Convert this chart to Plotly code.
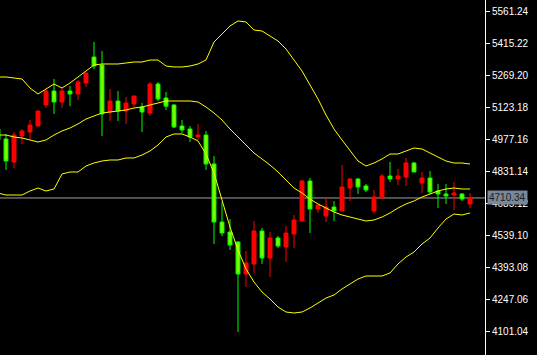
import plotly.graph_objects as go

bars = list(range(-1, 59))

opens = [5025.1, 4979.5, 4874.5, 4993.1, 5011.4, 5038.8, 5134.6, 5198.5, 5148.3, 5198.5,
         5184.8, 5235.0, 5353.6, 5317.1, 5102.6, 5152.8, 5107.2, 5139.2, 5125.4, 5098.1,
         5230.4, 5166.5, 5134.6, 5038.8, 5025.1, 4988.6, 4997.7, 4865.4, 4600.7, 4555.1,
         4509.4, 4363.4, 4409.1, 4559.6, 4436.4, 4527.7, 4486.6, 4545.9, 4605.2, 4787.8,
         4660.0, 4628.1, 4669.2, 4650.9, 4755.9, 4796.9, 4765.0, 4650.9, 4710.5, 4810.6,
         4796.9, 4806.0, 4870.0, 4778.7, 4801.5, 4742.1, 4728.4, 4723.9, 4728.4, 4682.9]
highs = [5034.2, 5002.3, 5011.4, 5025.1, 5066.1, 5107.2, 5203.0, 5253.2, 5212.2, 5221.3,
         5248.7, 5280.6, 5422.1, 5381.0, 5207.6, 5198.5, 5171.1, 5175.6, 5143.7, 5239.5,
         5239.5, 5193.9, 5139.2, 5066.1, 5038.8, 5047.9, 5015.9, 4901.9, 4692.0, 4614.4,
         4514.0, 4468.4, 4605.2, 4573.3, 4555.1, 4536.8, 4582.4, 4632.6, 4792.3, 4801.5,
         4678.3, 4710.2, 4696.5, 4860.8, 4801.5, 4801.5, 4774.1, 4746.7, 4819.7, 4874.5,
         4842.6, 4892.8, 4874.5, 4828.9, 4833.4, 4774.1, 4774.1, 4783.2, 4733.0, 4733.0]
lows = [4965.8, 4838.0, 4847.1, 4956.6, 4974.9, 5038.8, 5120.9, 5093.5, 5120.9, 5129.2,
        5157.4, 5216.7, 5298.9, 4993.1, 5061.6, 5061.6, 5047.9, 5125.4, 5011.4, 5084.4,
        5152.8, 5111.8, 5029.7, 5006.8, 4965.8, 4974.9, 4838.0, 4500.3, 4536.8, 4472.9,
        4098.8, 4304.1, 4368.0, 4409.1, 4349.7, 4482.1, 4418.2, 4482.1, 4605.2, 4550.5,
        4641.8, 4600.7, 4605.2, 4650.9, 4696.5, 4728.4, 4737.6, 4641.8, 4705.6, 4783.2,
        4769.6, 4765.0, 4828.9, 4733.0, 4728.4, 4664.6, 4682.9, 4655.4, 4696.5, 4664.6]
closes = [4974.9, 4879.0, 4997.7, 5015.9, 5043.3, 5107.2, 5198.5, 5148.3, 5198.5, 5184.8,
          5239.5, 5280.6, 5312.5, 5093.5, 5152.8, 5107.2, 5143.7, 5175.6, 5102.6, 5230.4,
          5162.0, 5129.2, 5034.2, 5020.5, 4988.6, 4997.7, 4865.4, 4600.7, 4550.5, 4495.8,
          4363.4, 4413.6, 4559.6, 4436.4, 4527.7, 4491.2, 4550.5, 4609.8, 4787.8, 4660.0,
          4678.3, 4669.2, 4650.9, 4760.4, 4796.9, 4760.4, 4746.7, 4715.0, 4810.6, 4796.9,
          4810.6, 4870.0, 4828.9, 4801.5, 4737.6, 4728.4, 4719.3, 4733.0, 4705.6, 4710.34]

band_upper = [5262.4, 5262.4, 5257.8, 5253.2, 5212.2, 5184.8, 5207.6, 5230.4, 5212.2, 5235.0,
              5262.4, 5289.7, 5317.1, 5321.7, 5321.7, 5321.7, 5326.2, 5330.8, 5330.8, 5339.9,
              5339.9, 5312.5, 5308.0, 5308.0, 5312.5, 5321.7, 5339.9, 5422.1, 5458.6, 5495.1,
              5518.0, 5513.4, 5476.8, 5472.3, 5449.4, 5426.6, 5390.1, 5339.9, 5289.7, 5225.9,
              5162.0, 5088.9, 5025.1, 4974.9, 4929.2, 4879.0, 4856.2, 4869.9, 4888.2, 4911.0,
              4911.0, 4924.7, 4938.4, 4933.8, 4915.6, 4897.3, 4879.0, 4869.9, 4869.9, 4865.4]
band_middle = [4997.7, 4997.7, 4988.6, 4984.0, 4974.9, 4965.8, 4974.9, 4997.7, 5015.9, 5029.7,
               5047.9, 5070.7, 5084.4, 5098.1, 5102.6, 5107.2, 5111.8, 5120.9, 5125.4, 5134.6,
               5143.7, 5152.8, 5152.8, 5152.8, 5152.8, 5148.3, 5125.4, 5098.1, 5066.1, 5025.1,
               4988.6, 4947.5, 4915.6, 4888.2, 4860.8, 4828.9, 4792.3, 4755.9, 4733.0, 4705.6,
               4682.9, 4664.6, 4646.3, 4632.6, 4623.5, 4614.4, 4605.2, 4609.8, 4623.5, 4641.8,
               4664.6, 4682.9, 4696.5, 4714.7, 4728.4, 4742.1, 4751.3, 4755.9, 4751.3, 4751.3]
band_lower = [4733.0, 4723.9, 4723.9, 4723.9, 4742.1, 4755.9, 4742.1, 4751.3, 4819.7, 4828.9,
              4828.9, 4856.2, 4869.9, 4879.0, 4883.6, 4883.6, 4892.8, 4892.8, 4906.4, 4924.7,
              4952.1, 4988.6, 5002.3, 5002.3, 4988.6, 4970.4, 4911.0, 4824.3, 4701.1, 4577.9,
              4472.9, 4386.2, 4326.9, 4281.3, 4249.3, 4212.8, 4190.0, 4185.4, 4190.0, 4208.3,
              4231.1, 4253.9, 4267.6, 4295.0, 4317.8, 4340.6, 4354.3, 4354.3, 4354.3, 4368.0,
              4409.1, 4441.0, 4463.8, 4500.3, 4527.7, 4573.3, 4614.4, 4637.2, 4632.6, 4641.8]

price_ticks = [5561.24, 5415.22, 5269.20, 5123.18, 4977.16, 4831.14,
               4685.12, 4539.10, 4393.08, 4247.06, 4101.04]
bid_price = 4710.34

fig = go.Figure()
fig.add_trace(go.Candlestick(
    x=bars, open=opens, high=highs, low=lows, close=closes,
    increasing=dict(line=dict(color="#FF0000", width=1), fillcolor="#FF0000"),
    decreasing=dict(line=dict(color="#00FF00", width=1), fillcolor="#7FFF00"),
    whiskerwidth=0, showlegend=False, hoverinfo="skip",
))
for band in (band_upper, band_middle, band_lower):
    fig.add_trace(go.Scatter(x=bars, y=band, mode="lines",
                             line=dict(color="#FFFF00", width=1),
                             showlegend=False, hoverinfo="skip"))

fig.add_shape(type="line", xref="paper", x0=0, x1=1, yref="y", y0=bid_price, y1=bid_price,
              line=dict(color="#A0A0A0", width=1), layer="below")

fig.add_annotation(xref="paper", x=1, xanchor="left", xshift=2, yref="y", y=bid_price,
                   text=f"{bid_price:.2f}", showarrow=False, bgcolor="#778899",
                   font=dict(family="Liberation Sans", size=10, color="#202020"),
                   borderpad=1)

fig.update_layout(
    width=537, height=355,
    margin=dict(l=0, r=52, t=0, b=0),
    paper_bgcolor="#000000", plot_bgcolor="#000000",
    boxgap=0.3,
    xaxis=dict(range=[-0.75, 59.875], showgrid=False, zeroline=False,
               showticklabels=False, rangeslider=dict(visible=False), fixedrange=True),
    yaxis=dict(range=[3993.8, 5613.7], side="right", showgrid=False, zeroline=False,
               showline=True, linecolor="#FFFFFF", linewidth=1,
               ticks="outside", ticklen=4, tickcolor="#FFFFFF",
               tickvals=price_ticks, ticktext=[f"{v:.2f}" for v in price_ticks],
               tickfont=dict(family="Liberation Sans", size=10, color="#FFFFFF"),
               fixedrange=True),
)

fig.write_html("out.html")
